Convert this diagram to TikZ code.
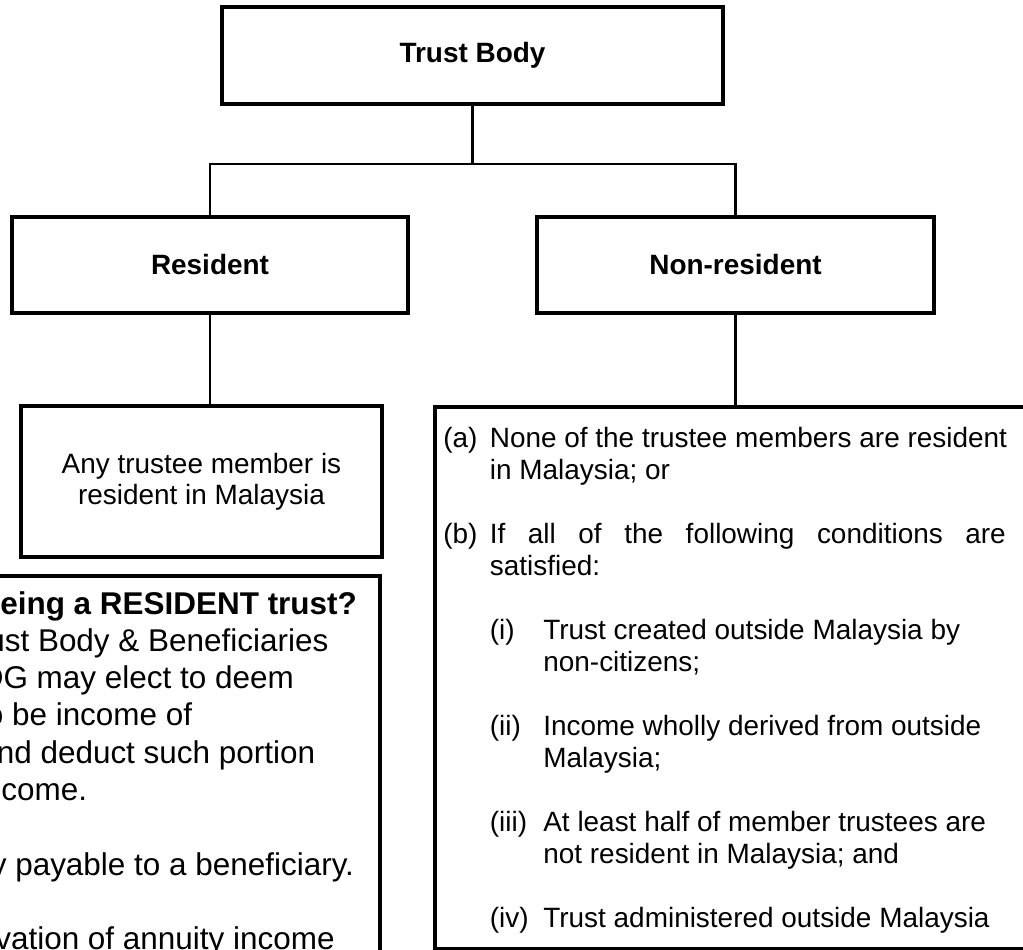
\documentclass[tikz,border=0pt]{standalone}
\usepackage{fontspec}
\setmainfont{Liberation Sans}

\begin{document}
\begin{tikzpicture}[
    box/.style={draw, line width=2pt, rectangle, inner sep=0pt},
    link/.style={line width=1.4pt},
    rule/.style={inner sep=0pt, anchor=base west, align=left,
        font=\fontsize{15.9}{18.2}\selectfont},
    note/.style={inner sep=0pt, anchor=base west,
        font=\fontsize{17.9}{21}\selectfont}]

% Page size of the cut-out, nothing drawn outside it
\useasboundingbox (0,0) rectangle (20.46,18.98);
\clip (0,0) rectangle (20.46,18.98);

% Trust body at the top
\node[box,
    minimum width=10.02cm,
    minimum height=1.94cm,
    font=\bfseries\fontsize{15.9}{18}\selectfont] (trust) at (9.45,17.87) {Trust Body};

% The two kinds of trust
\node[box,
    minimum width=7.92cm,
    minimum height=1.92cm,
    font=\bfseries\fontsize{15.9}{18}\selectfont] (resident) at (4.2,13.68) {Resident};

\node[box,
    minimum width=7.94cm,
    minimum height=1.92cm,
    font=\bfseries\fontsize{15.9}{18}\selectfont] (nonres) at (14.71,13.68) {Non-resident};

% Test for a resident trust
\node[box,
    minimum width=7.22cm,
    minimum height=3.02cm,
    align=center,
    font=\fontsize{15.9}{17.6}\selectfont] (anyres) at (4.03,9.35) {Any trustee member is\\resident in Malaysia};

% Test for a non-resident trust (runs off the page)
\node[box,
    anchor=north west,
    minimum width=12.5cm,
    minimum height=10.83cm] (nonrestest) at (8.66,10.88) {};

% Note box on the left (runs off the page)
\node[box,
    anchor=north east,
    minimum width=9cm,
    minimum height=8cm] (trustnote) at (7.64,7.5) {};

% Connectors
\draw[link] (trust.south) -- ++(0,-1.16) coordinate (split);
\draw[link] (resident.north) |- (split) -| (nonres.north);
\draw[link] (resident.south) -- (resident.south |- anyres.north);
\draw[link] (nonres.south) -- (nonres.south |- nonrestest.north);

% Conditions (a) and (b); two-line texts sit on their last line
\node[rule] (labela) at (8.86,10.04) {(a)};
\node[rule] (itema) at (9.79,9.40) {None of the trustee members are resident\\in Malaysia; or};
\node[rule] (labelb) at (8.86,8.12) {(b)};
\node[rule] (itemb) at (9.79,7.48) {\makebox[10.32cm][s]{If all of the following conditions are}\\satisfied:};

% Conditions (i) to (iv)
\node[rule] (labeli) at (9.79,6.20) {(i)};
\node[rule] (itemi) at (10.86,5.56) {Trust created outside Malaysia by\\non-citizens;};
\node[rule] (labelii) at (9.79,4.28) {(ii)};
\node[rule] (itemii) at (10.86,3.64) {Income wholly derived from outside\\Malaysia;};
\node[rule] (labeliii) at (9.79,2.36) {(iii)};
\node[rule] (itemiii) at (10.86,1.72) {At least half of member trustees are\\not resident in Malaysia; and};
\node[rule] (labeliv) at (9.79,0.44) {(iv)};
\node[rule] (itemiv) at (10.86,0.44) {Trust administered outside Malaysia};

% Note text, cut at the left edge
\node[note, font=\bfseries\fontsize{17.9}{21}\selectfont] (noteone) at (0,6.70) {eing a RESIDENT trust?};
\node[note] (notetwo) at (-0.26,5.954) {ust Body \& Beneficiaries};
\node[note] (notethree) at (-0.39,5.208) {DG may elect to deem};
\node[note] (notefour) at (-0.29,4.462) {o be income of};
\node[note] (notefive) at (-0.07,3.716) {nd deduct such portion};
\node[note] (notesix) at (0.02,2.970) {come.};
\node[note] (noteeight) at (-0.19,1.478) {y payable to a beneficiary.};
\node[note] (noteten) at (-0.1,-0.014) {vation of annuity income};

\end{tikzpicture}
\end{document}
